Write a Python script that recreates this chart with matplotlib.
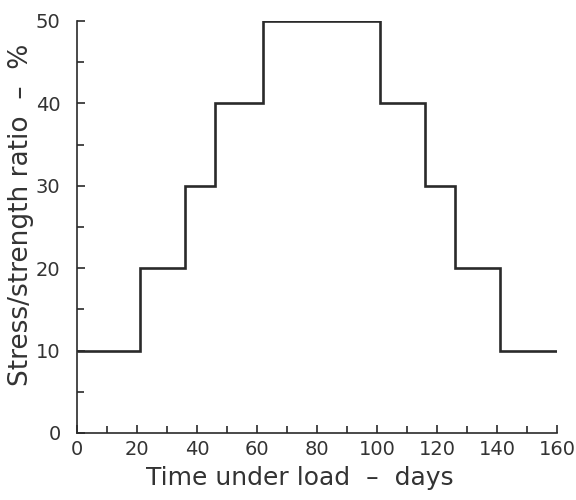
import matplotlib
matplotlib.use("Agg")
import matplotlib.pyplot as plt
from matplotlib.ticker import MultipleLocator

# step edges (days) and stress/strength ratio (%) for each loading stage
step_days = [0, 21, 36, 46, 62, 101, 116, 126, 141, 160]
stress_ratio = [10, 20, 30, 40, 50, 40, 30, 20, 10]

x_ticks = [0, 20, 40, 60, 80, 100, 120, 140, 160]
y_ticks = [0, 10, 20, 30, 40, 50]

plt.rcParams['font.family'] = ['DejaVu Sans']

fig = plt.figure(figsize=(5.76, 5.0), dpi=100)
ax = fig.add_axes([0.134, 0.134, 0.833, 0.824])

ax.stairs(stress_ratio, step_days, baseline=None, color='#2a2a2a', linewidth=1.9)

ax.set_xlim(0, 160)
ax.set_ylim(0, 50)
ax.set_xticks(x_ticks)
ax.set_yticks(y_ticks)
ax.xaxis.set_minor_locator(MultipleLocator(10))
ax.yaxis.set_minor_locator(MultipleLocator(5))
ax.tick_params(which='both', direction='in', width=1.2, colors='#2a2a2a',
               labelcolor='#333333', labelsize=14)
ax.tick_params(which='major', length=6)
ax.tick_params(which='minor', length=5)
ax.tick_params(axis='y', pad=12)
ax.tick_params(axis='x', pad=5)

for side in ['top', 'right']:
    ax.spines[side].set_visible(False)
for side in ['left', 'bottom']:
    ax.spines[side].set_linewidth(1.2)
    ax.spines[side].set_color('#2a2a2a')

ax.set_xlabel('Time under load  \u2013  days', fontsize=18, color='#333333')
ax.set_ylabel('Stress/strength ratio  \u2013  %', fontsize=19, color='#333333')
ax.xaxis.set_label_coords(0.465, -0.08)
ax.yaxis.set_label_coords(-0.09, 0.53)

fig.savefig('out.png', dpi=100)
